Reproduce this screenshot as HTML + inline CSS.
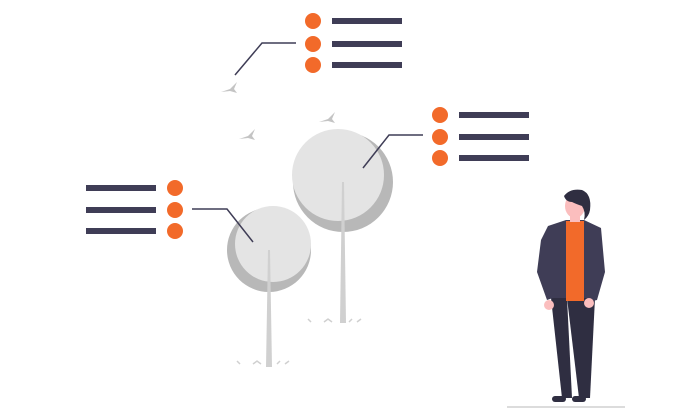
<!DOCTYPE html>
<html><head><style>body{margin:0;background:#fff}svg{display:block}</style></head><body>
<svg width="678" height="420" viewBox="0 0 678 420" xmlns="http://www.w3.org/2000/svg">
<g fill="#f26a2a">
<circle cx="313" cy="21" r="8"/><circle cx="313" cy="44" r="8"/><circle cx="313" cy="65" r="8"/>
<circle cx="440" cy="115" r="8"/><circle cx="440" cy="137" r="8"/><circle cx="440" cy="158" r="8"/>
<circle cx="175" cy="188" r="8"/><circle cx="175" cy="210" r="8"/><circle cx="175" cy="231" r="8"/>
</g>
<g fill="#3f3d56">
<rect x="332" y="18" width="70" height="6"/><rect x="332" y="41" width="70" height="6"/><rect x="332" y="62" width="70" height="6"/>
<rect x="459" y="112" width="70" height="6"/><rect x="459" y="134" width="70" height="6"/><rect x="459" y="155" width="70" height="6"/>
<rect x="86" y="185" width="70" height="6"/><rect x="86" y="207" width="70" height="6"/><rect x="86" y="228" width="70" height="6"/>
</g>
<circle cx="343" cy="182" r="50" fill="#b8b8b8"/>
<circle cx="338" cy="175" r="46" fill="#e4e4e4"/>
<circle cx="269" cy="250" r="42" fill="#b8b8b8"/>
<circle cx="273" cy="244" r="38" fill="#e4e4e4"/>
<polygon points="342,182 344,182 346,323 340,323" fill="#d0d0d0"/>
<polygon points="268,250 270,250 272,367 266,367" fill="#d0d0d0"/>
<g fill="none" stroke="#3f3d56" stroke-width="1.5">
<polyline points="235,75 262,43 296,43"/>
<polyline points="363,168 389,135 423,135"/>
<polyline points="192,209 227,209 253,242"/>
</g>
<g stroke="#d0d0d0" stroke-width="1.5" fill="none">
<path d="M308,319l3,3M324,322l4,-3l4,3M349,322l3,-3M357,322l4,-3"/>
<path d="M237,361l3,3M253,364l4,-3l4,3M277,364l3,-3M285,364l4,-3"/>
</g>
<g fill="#c4c4c4">
<path d="M221,92 l9,-3 l7,-7 l-3,7 l3,4 l-7,-2z"/>
<path d="M239,139 l9,-3 l7,-7 l-3,7 l3,4 l-7,-2z"/>
<path d="M319,122 l9,-3 l7,-7 l-3,7 l3,4 l-7,-2z"/>
</g>
<line x1="507" y1="407" x2="625" y2="407" stroke="#d0d0d0" stroke-width="1.5"/>
<polygon points="551,298 567,298 572,398 562,398" fill="#2f2e41"/>
<polygon points="567,298 595,298 590,398 579,398" fill="#2f2e41"/>
<rect x="552" y="396" width="14" height="6" rx="3" fill="#2f2e41"/>
<rect x="572" y="396" width="14" height="6" rx="3" fill="#2f2e41"/>
<polygon points="548,226 566,220 584,220 601,228 605,272 597,300 588,302 587,298 553,298 547,300 537,272 541,240" fill="#3f3d56"/>
<rect x="566" y="221" width="18" height="80" fill="#f26a2a"/>
<circle cx="549" cy="305" r="5" fill="#fbbebe"/>
<circle cx="589" cy="303" r="5" fill="#fbbebe"/>
<rect x="570" y="212" width="10" height="10" fill="#fbbebe"/>
<ellipse cx="575" cy="206" rx="10" ry="12" fill="#fbbebe"/>
<path d="M564,196 q6,-8 18,-6 q10,4 8,20 q-1,6 -6,10 q2,-8 -2,-14 q-6,-2 -10,-4 q-6,0 -8,-6z" fill="#2f2e41"/>
</svg>
</body></html>
